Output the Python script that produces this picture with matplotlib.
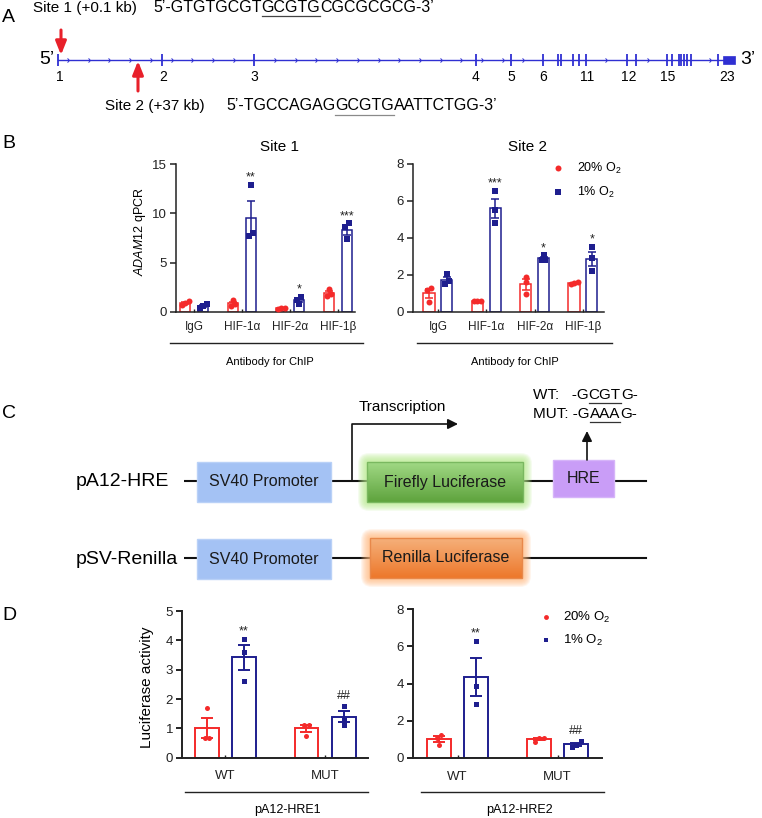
import numpy as np
import matplotlib
matplotlib.use('Agg')
import matplotlib.pyplot as plt
from matplotlib.patches import Rectangle, FancyBboxPatch
from matplotlib.path import Path

plt.rcParams['font.family'] = ['Liberation Sans', 'DejaVu Sans']
plt.rcParams['mathtext.fontset'] = 'custom'
plt.rcParams['mathtext.rm'] = 'Liberation Sans'
plt.rcParams['mathtext.it'] = 'Liberation Sans:italic'

RED = '#f42a2a'
BLUE = '#1e1e8e'
GENE = '#2f2fd2'
W, H = 762, 818

# ---- panel A: ADAM12 gene model (exon positions in kb-scaled pixels)
exon_x = [58, 162, 254, 476, 511, 543, 558, 561, 573, 579, 586, 627, 636,
          667, 672, 679, 681, 684, 687, 691, 718]
exon_labels = ['1', '2', '3', '4', '5', '6', '11', '12', '15', '23']
exon_label_x = [60, 163, 254, 476, 511, 543, 587, 629, 668, 727]

# ---- panel B: ChIP qPCR, three replicates each
antibodies = ['IgG', 'HIF-1α', 'HIF-2α', 'HIF-1β']
site1_normoxia = [[1.1, 0.85, 0.65], [1.2, 0.75, 0.6], [0.4, 0.35, 0.3], [2.35, 1.8, 1.6]]
site1_hypoxia = [[0.75, 0.6, 0.4], [12.9, 8.0, 7.7], [1.5, 1.2, 0.78], [9.0, 8.65, 7.36]]
site1_marks = ['', '**', '*', '***']
site2_normoxia = [[1.3, 1.17, 0.54], [0.56, 0.56, 0.56], [1.9, 1.62, 0.94], [1.53, 1.59, 1.5]]
site2_hypoxia = [[2.04, 1.68, 1.5], [6.55, 5.5, 4.78], [3.05, 2.82, 2.8], [3.52, 2.89, 2.22]]
site2_marks = ['', '***', '*', '*']

# ---- panel D: luciferase reporter
constructs = ['WT', 'MUT']
hre1_normoxia = [[1.68, 0.66, 0.66], [1.13, 1.13, 0.73]]
hre1_hypoxia = [[4.05, 3.6, 2.6], [1.75, 1.3, 1.12]]
hre1_marks = ['**', '##']
hre2_normoxia = [[1.25, 1.05, 0.7], [1.08, 1.08, 0.87]]
hre2_hypoxia = [[6.28, 3.84, 2.89], [0.9, 0.6, 0.72]]
hre2_marks = ['**', '##']


def rect(x0, x1, ytop, ybot):
    return [x0 / W, 1 - ybot / H, (x1 - x0) / W, (ybot - ytop) / H]


fig = plt.figure(figsize=(W / 100, H / 100), dpi=100)
cv = fig.add_axes([0, 0, 1, 1])
cv.set_axis_off()
renderer = fig.canvas.get_renderer()


def seg_text(x, y, parts, size, ul_color='k', ul_dy=8):
    for s, ul in parts:
        t = cv.text(x, y, s, fontsize=size, ha='left', va='center')
        w = t.get_window_extent(renderer).width
        if ul:
            cv.plot([x, x + w], [y + ul_dy, y + ul_dy], color=ul_color, lw=0.9)
        x += w


def swarm(vals, px_per_y, gap=4.0):
    vals = np.asarray(vals)
    order = np.argsort(vals)
    offs = np.zeros(len(vals))
    clusters = [[order[0]]]
    for i in order[1:]:
        if (vals[i] - vals[clusters[-1][-1]]) * px_per_y < gap:
            clusters[-1].append(i)
        else:
            clusters.append([i])
    for c in clusters:
        for k, i in enumerate(c):
            offs[i] = k - (len(c) - 1) / 2
    return offs


def bar_panel(ax, groups, normo, hypo, marks, ylim, yticks, xlim, bw, off,
              lw, capsize, ms, box_px, xfs, yfs, xpad, mark_fs, spread):
    x = np.arange(len(groups))
    px_per_y = box_px[1] / (ylim[1] - ylim[0])
    px_per_x = box_px[0] / (xlim[1] - xlim[0])
    tops = None
    for vals, dx, color, marker in [(normo, -off, RED, 'o'), (hypo, off, BLUE, 's')]:
        arr = np.array(vals)
        m = arr.mean(1)
        se = arr.std(1, ddof=1) / np.sqrt(arr.shape[1])
        ax.bar(x + dx, m, bw, facecolor='white', edgecolor=color, lw=lw, zorder=2)
        ax.errorbar(x + dx, m, yerr=se, fmt='none', ecolor=color, elinewidth=lw,
                    capsize=capsize, capthick=lw, zorder=3)
        for xi, pts in zip(x + dx, arr):
            o = swarm(pts, px_per_y) * spread / px_per_x
            ax.plot(xi + o, pts, marker, color=color, ms=ms, mew=0, ls='none', zorder=4)
        tops = np.maximum(arr.max(1), m + se)
    for xi, t, s in zip(x + off, tops, marks):
        if s:
            dy = 3 if '*' in s else 5.5
            ax.annotate(s, (xi, t), xytext=(0, dy), textcoords='offset points',
                        ha='center', va='baseline', fontsize=mark_fs, color='#222222')
    ax.set_xlim(*xlim)
    ax.set_ylim(*ylim)
    ax.set_yticks(yticks)
    ax.set_xticks(x)
    ax.set_xticklabels(groups, fontsize=xfs)
    ax.tick_params(axis='x', direction='in', length=2.5, width=1, pad=xpad, colors='#222222')
    ax.tick_params(axis='y', direction='out', length=4, width=lw, pad=2.5,
                   labelsize=yfs, colors='#222222')
    for s in ['top', 'right']:
        ax.spines[s].set_visible(False)
    for s in ['left', 'bottom']:
        ax.spines[s].set_linewidth(lw)
        ax.spines[s].set_color('#222222')
    ax.set_facecolor('none')


# ---------------- panel A
cv.text(2, 17, 'A', fontsize=14, ha='left', va='center')
cv.plot([58, 723], [60, 60], color=GENE, lw=1.0, zorder=2)
chev = Path([(-0.45, 1), (0.45, 0), (-0.45, -1)], [Path.MOVETO, Path.LINETO, Path.LINETO])
cx = np.arange(68, 716, 20.7)
cx = np.array([c for c in cx if min(abs(c - e) for e in exon_x) > 4])
cv.plot(cx, np.full(len(cx), 60.0), ls='none', marker=chev, ms=3, mfc='none',
        mec=GENE, mew=0.7, zorder=2)
cv.vlines(exon_x, 54, 66, color=GENE, lw=1.3, zorder=3)
cv.add_patch(Rectangle((723, 56), 12, 8, fc=GENE, ec=GENE, lw=0.5, zorder=3))
for s, xl in zip(exon_labels, exon_label_x):
    cv.text(xl, 77, s, fontsize=10, ha='center', va='center')
cv.text(54, 60, '5’', fontsize=14, ha='right', va='center')
cv.text(740, 60, '3’', fontsize=14, ha='left', va='center')
cv.annotate('', xy=(61, 55), xytext=(61, 30),
            arrowprops=dict(arrowstyle='-|>,head_width=0.32,head_length=0.8',
                            color='#e8202a', lw=2.2, shrinkA=0, shrinkB=0))
cv.annotate('', xy=(138, 61), xytext=(138, 91),
            arrowprops=dict(arrowstyle='-|>,head_width=0.32,head_length=0.8',
                            color='#e8202a', lw=2.2, shrinkA=0, shrinkB=0))
cv.text(33, 8, 'Site 1 (+0.1 kb)', fontsize=11, ha='left', va='center')
seg_text(153, 8, [('5’-GTGTGCGT', False), ('GCGTG', True), ('CGCGCGCG-3’', False)],
         11.5, ul_color='#444444', ul_dy=8)
cv.text(105, 106, 'Site 2 (+37 kb)', fontsize=11, ha='left', va='center')
seg_text(226, 106, [('5’-TGCCAGAG', False), ('GCGTG', True), ('AATTCTGG-3’', False)],
         11.5, ul_color='#8a8a8a', ul_dy=9)

# ---------------- panel B
cv.text(2, 144, 'B', fontsize=14, ha='left', va='center')
axb1 = fig.add_axes(rect(176, 355, 164.3, 311.7))
bar_panel(axb1, antibodies, site1_normoxia, site1_hypoxia, site1_marks,
          (0, 15), [0, 5, 10, 15], (-0.375, 3.354), 0.22, 0.1875,
          1.1, 2.9, 4.3, (179, 147.4), 8.5, 9.5, 6.5, 9, 3.5)
axb2 = fig.add_axes(rect(413, 604, 164, 311.7))
bar_panel(axb2, antibodies, site2_normoxia, site2_hypoxia, site2_marks,
          (0, 8), [0, 2, 4, 6, 8], (-0.517, 3.435), 0.23, 0.185,
          1.1, 2.9, 4.3, (191, 147.7), 8.5, 9.5, 6.5, 9, 3.5)
cv.text(279, 147, 'Site 1', fontsize=11, ha='center', va='center')
cv.text(528, 147, 'Site 2', fontsize=11, ha='center', va='center')
cv.text(140, 232, r'$\it{ADAM12}$ qPCR', fontsize=9, rotation=90, ha='center', va='center')
cv.plot(558, 168, 'o', color=RED, ms=4.3, mew=0)
cv.plot(558, 192, 's', color=BLUE, ms=4.3, mew=0)
cv.text(577, 168, r'20% O$_2$', fontsize=9, ha='left', va='center')
cv.text(577, 192, r'1% O$_2$', fontsize=9, ha='left', va='center')
for x0, x1, xc in [(170, 363, 270), (417, 612, 515)]:
    cv.plot([x0, x1], [343, 343], color='#222222', lw=1.0)
    cv.text(xc, 362, 'Antibody for ChIP', fontsize=8, ha='center', va='center')

# ---------------- panel C
cv.text(2, 413, 'C', fontsize=14, ha='left', va='center')


def glow_box(x0, y0, x1, y1, glow, top, bot, edge, label):
    for pad in np.linspace(9, 1, 9):
        cv.add_patch(FancyBboxPatch((x0, y0), x1 - x0, y1 - y0,
                                    boxstyle='round,pad=%g,rounding_size=%g' % (pad, pad + 2),
                                    fc=glow, ec='none', alpha=0.13, zorder=1))
    g = np.linspace(0, 1, 64)[:, None, None]
    img = np.array(top)[None, None, :] * (1 - g) + np.array(bot)[None, None, :] * g
    cv.imshow(img, extent=(x0, x1, y1, y0), aspect='auto', zorder=2, interpolation='bilinear')
    cv.add_patch(Rectangle((x0, y0), x1 - x0, y1 - y0, fc='none', ec=edge, lw=1, zorder=3))
    cv.text((x0 + x1) / 2, (y0 + y1) / 2, label, fontsize=11.5, ha='center',
            va='center', color='#1a1a1a', zorder=4)


def flat_box(x0, y0, x1, y1, fc, ec, label):
    cv.add_patch(Rectangle((x0, y0), x1 - x0, y1 - y0, fc=fc, ec=ec, lw=1, zorder=3))
    cv.text((x0 + x1) / 2, (y0 + y1) / 2, label, fontsize=11.5, ha='center',
            va='center', color='#1a1a1a', zorder=4)


for yrow, name in [(481, 'pA12-HRE'), (558, 'pSV-Renilla')]:
    cv.text(76, yrow + 1, name, fontsize=14, ha='left', va='center')
    cv.plot([184, 646], [yrow, yrow], color='#111111', lw=1.5, zorder=0.5)
    cv.add_patch(Rectangle((176, yrow - 12), 8, 24, fc='white', ec='none', zorder=0.6))
    flat_box(197, yrow - 19, 331, yrow + 21, '#a4c2f4', '#b9d1f7', 'SV40 Promoter')

glow_box(367, 462, 523, 502, '#b6ea8a', (0.63, 0.85, 0.52), (0.37, 0.64, 0.24),
         '#7ab860', 'Firefly Luciferase')
flat_box(553, 460, 614, 497, '#c99df7', '#d6b4f9', 'HRE')
glow_box(370, 538, 522, 578, '#ffb77a', (0.96, 0.69, 0.48), (0.93, 0.47, 0.17),
         '#e8884a', 'Renilla Luciferase')

cv.plot([352, 352, 450], [481, 424, 424], color='#111111', lw=1.2, zorder=5)
cv.annotate('', xy=(458, 424), xytext=(448, 424),
            arrowprops=dict(arrowstyle='-|>,head_width=0.3,head_length=0.6',
                            color='#111111', lw=1.2, shrinkA=0, shrinkB=0))
cv.text(402, 407, 'Transcription', fontsize=11, ha='center', va='center')
cv.annotate('', xy=(587, 431), xytext=(587, 460),
            arrowprops=dict(arrowstyle='-|>,head_width=0.3,head_length=0.6',
                            color='#111111', lw=1.2, shrinkA=0, shrinkB=0))
seg_text(533, 395, [('WT:   -G', False), ('CGT', True), ('G-', False)], 11, ul_color='#333333')
seg_text(533, 414, [('MUT: -G', False), ('AAA', True), ('G-', False)], 11, ul_color='#333333')

# ---------------- panel D
cv.text(2, 615, 'D', fontsize=14, ha='left', va='center')
axd1 = fig.add_axes(rect(182, 368, 611, 757.7))
bar_panel(axd1, constructs, hre1_normoxia, hre1_hypoxia, hre1_marks,
          (0, 5), [0, 1, 2, 3, 4, 5], (-0.437, 1.432), 0.241, 0.186,
          1.4, 4.5, 3.6, (186, 146.7), 9.5, 9.5, 9, 9, 4.5)
axd2 = fig.add_axes(rect(413, 602, 609, 758))
bar_panel(axd2, constructs, hre2_normoxia, hre2_hypoxia, hre2_marks,
          (0, 8), [0, 2, 4, 6, 8], (-0.445, 1.445), 0.24, 0.185,
          1.4, 4.5, 3.6, (189, 149), 9.5, 9.5, 9, 9, 4.5)
cv.text(147, 687, 'Luciferase activity', fontsize=11, rotation=90, ha='center', va='center')
cv.plot(546, 617, 'o', color=RED, ms=3.5, mew=0)
cv.plot(546, 640, 's', color=BLUE, ms=3.5, mew=0)
cv.text(563, 617, r'20% O$_2$', fontsize=9.5, ha='left', va='center')
cv.text(563, 640, r'1% O$_2$', fontsize=9.5, ha='left', va='center')
for x0, x1, xc, lab in [(185, 368, 287, 'pA12-HRE1'), (421, 604, 519, 'pA12-HRE2')]:
    cv.plot([x0, x1], [792, 792], color='#222222', lw=1.0)
    cv.text(xc, 810, lab, fontsize=9, ha='center', va='center')

cv.set_xlim(0, W)
cv.set_ylim(H, 0)
fig.savefig('out.png', dpi=100)
